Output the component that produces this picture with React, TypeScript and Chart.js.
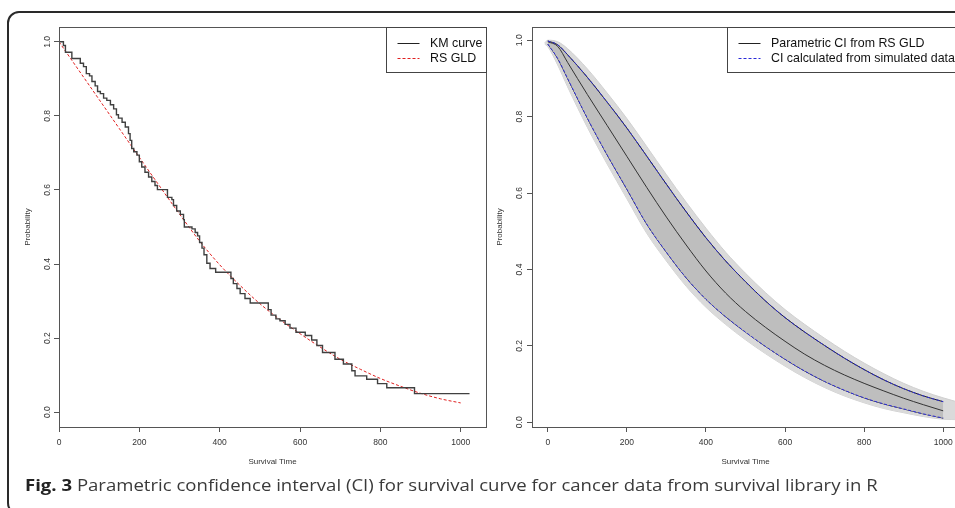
import React, { useEffect, useRef } from "react";
import { Chart, registerables } from "chart.js";

Chart.register(...registerables);

const FONT = "'Liberation Sans', Arial, Helvetica, sans-serif";

// ---------- Left panel: Kaplan-Meier curve vs RS GLD fit ----------
const kmTimes = [0, 11, 16, 32, 53, 61, 68, 76, 82, 90, 96, 103, 111, 119, 128, 136, 143, 148, 157, 165, 173, 177, 181, 186, 194, 200, 206, 214, 223, 231, 239, 245, 270, 281, 285, 293, 302, 310, 312, 331, 339, 345, 350, 356, 361, 368, 376, 390, 428, 434, 443, 451, 463, 476, 521, 528, 540, 550, 563, 575, 590, 613, 629, 642, 656, 687, 708, 729, 737, 766, 793, 816, 885, 1022];
const kmSurv = [1.0, 0.99, 0.972, 0.955, 0.942, 0.933, 0.914, 0.908, 0.893, 0.881, 0.866, 0.86, 0.848, 0.842, 0.83, 0.819, 0.803, 0.794, 0.783, 0.77, 0.752, 0.734, 0.712, 0.703, 0.694, 0.676, 0.662, 0.648, 0.635, 0.623, 0.612, 0.601, 0.58, 0.574, 0.558, 0.543, 0.534, 0.52, 0.5, 0.495, 0.485, 0.476, 0.458, 0.443, 0.425, 0.402, 0.388, 0.378, 0.361, 0.347, 0.334, 0.32, 0.307, 0.295, 0.277, 0.262, 0.252, 0.247, 0.237, 0.227, 0.216, 0.207, 0.195, 0.18, 0.161, 0.143, 0.13, 0.112, 0.098, 0.089, 0.077, 0.066, 0.05, 0.05];

const gldTimes = [0, 50, 100, 150, 200, 250, 300, 350, 400, 450, 500, 550, 600, 650, 700, 750, 800, 850, 900, 950, 1000];
const gldSurv = [1.0, 0.922, 0.844, 0.766, 0.688, 0.611, 0.535, 0.462, 0.398, 0.343, 0.293, 0.25, 0.212, 0.176, 0.143, 0.116, 0.091, 0.07, 0.051, 0.036, 0.025];

// ---------- Right panel: parametric CI and simulated curves ----------
const ciTimes = [0, 25, 50, 100, 150, 200, 250, 300, 350, 400, 450, 500, 550, 600, 650, 700, 750, 800, 850, 900, 950, 1000];
const ciCenter = [0.996, 0.984, 0.942, 0.858, 0.777, 0.696, 0.615, 0.537, 0.464, 0.396, 0.338, 0.29, 0.249, 0.212, 0.178, 0.149, 0.124, 0.102, 0.082, 0.063, 0.046, 0.03];
const ciLower = [0.99, 0.952, 0.9, 0.796, 0.7, 0.61, 0.519, 0.445, 0.378, 0.322, 0.276, 0.236, 0.199, 0.165, 0.134, 0.107, 0.084, 0.064, 0.048, 0.035, 0.022, 0.011];
const ciUpper = [0.998, 0.988, 0.962, 0.903, 0.838, 0.77, 0.697, 0.623, 0.551, 0.483, 0.422, 0.368, 0.318, 0.274, 0.236, 0.201, 0.168, 0.138, 0.111, 0.088, 0.069, 0.054];

const envTimes = [-8, 0, 25, 50, 100, 150, 200, 250, 300, 350, 400, 450, 500, 550, 600, 650, 700, 750, 800, 850, 900, 950, 1000, 1040];
const envUpper = [0.993, 1.0, 0.996, 0.978, 0.925, 0.862, 0.795, 0.722, 0.648, 0.576, 0.508, 0.445, 0.39, 0.34, 0.295, 0.256, 0.22, 0.186, 0.155, 0.127, 0.102, 0.081, 0.064, 0.052];
const envLower = [0.99, 0.983, 0.935, 0.878, 0.772, 0.676, 0.585, 0.495, 0.422, 0.356, 0.301, 0.256, 0.216, 0.18, 0.147, 0.117, 0.091, 0.069, 0.051, 0.036, 0.025, 0.015, 0.008, 0.007];

const xTickValues = [0, 200, 400, 600, 800, 1000];
const yTickValues = [0, 0.2, 0.4, 0.6, 0.8, 1.0];

const leftLegend = [
  { label: "KM curve", color: "#222", dash: [] as number[] },
  { label: "RS GLD", color: "#e02020", dash: [3, 2] },
];
const rightLegend = [
  { label: "Parametric CI from RS GLD", color: "#222", dash: [] as number[] },
  { label: "CI calculated from simulated data", color: "#2a2ad8", dash: [3, 2] },
];

const pts = (xs: number[], ys: number[]) => xs.map((x, i) => ({ x, y: ys[i] }));

const rStylePlugin = {
  id: "rStyle",
  afterDraw(chart: any, _args: any, opts: any) {
    const { ctx, chartArea: a } = chart;
    const ys = chart.scales.y;
    ctx.save();
    ctx.strokeStyle = "#555";
    ctx.lineWidth = 1;
    ctx.setLineDash([]);
    ctx.strokeRect(Math.round(a.left) + 0.5, Math.round(a.top) + 0.5, Math.round(a.right - a.left), Math.round(a.bottom - a.top));
    ctx.fillStyle = "#333";
    ctx.font = `8.5px ${FONT}`;
    ctx.textAlign = "center";
    ctx.textBaseline = "middle";
    for (const v of yTickValues) {
      const y = ys.getPixelForValue(v);
      ctx.save();
      ctx.translate(a.left - opts.yLabelOffset, y);
      ctx.rotate(-Math.PI / 2);
      ctx.fillText(v.toFixed(1), 0, 0);
      ctx.restore();
    }
    const w = opts.legendWidth;
    const h = 45;
    const bx = Math.round(a.right - w) + 0.5;
    const by = Math.round(a.top) + 0.5;
    ctx.fillStyle = "#fff";
    ctx.fillRect(bx, by, w, h);
    ctx.strokeStyle = "#444";
    ctx.strokeRect(bx, by, w, h);
    opts.items.forEach((it: any, i: number) => {
      const yy = Math.round(a.top) + 16 + i * 15;
      ctx.strokeStyle = it.color;
      ctx.lineWidth = 1;
      ctx.setLineDash(it.dash);
      ctx.beginPath();
      ctx.moveTo(bx + 11, yy + 0.5);
      ctx.lineTo(bx + 33, yy + 0.5);
      ctx.stroke();
      ctx.setLineDash([]);
      ctx.fillStyle = "#111";
      ctx.font = `12.4px ${FONT}`;
      ctx.textAlign = "left";
      ctx.textBaseline = "middle";
      ctx.fillText(it.label, bx + 43.5, yy + 0.5);
    });
    ctx.restore();
  },
};

function makeScales(xmin: number, xmax: number, ymin: number, ymax: number, yAxisWidth: number, yTitlePad: number) {
  return {
    x: {
      type: "linear",
      min: xmin,
      max: xmax,
      afterFit: (s: any) => {
        s.height = 53;
      },
      afterBuildTicks: (s: any) => {
        s.ticks = xTickValues.map((v) => ({ value: v }));
      },
      ticks: {
        color: "#333",
        font: { size: 8.5, family: FONT },
        padding: 6,
        autoSkip: false,
        maxRotation: 0,
        minRotation: 0,
        callback: (v: any) => String(v),
      },
      grid: { display: true, drawOnChartArea: false, drawTicks: true, tickLength: 5, color: "#555", lineWidth: 1 },
      border: { display: true, color: "#555", width: 1 },
      title: {
        display: true,
        text: "Survival Time",
        color: "#333",
        font: { size: 8, family: FONT },
        padding: { top: 0, bottom: 13.5 },
      },
    },
    y: {
      type: "linear",
      min: ymin,
      max: ymax,
      afterFit: (s: any) => {
        s.width = yAxisWidth;
      },
      afterBuildTicks: (s: any) => {
        s.ticks = yTickValues.map((v) => ({ value: v }));
      },
      ticks: { display: false },
      grid: { display: true, drawOnChartArea: false, drawTicks: true, tickLength: 5, color: "#555", lineWidth: 1 },
      border: { display: true, color: "#555", width: 1 },
      title: {
        display: true,
        text: "Probability",
        color: "#333",
        font: { size: 8, family: FONT },
        padding: { top: yTitlePad, bottom: 0 },
      },
    },
  };
}

function LeftPanel() {
  const ref = useRef<HTMLCanvasElement>(null);
  useEffect(() => {
    const chart = new Chart(ref.current as HTMLCanvasElement, {
      type: "line",
      data: {
        datasets: [
          {
            label: "KM curve",
            data: pts(kmTimes, kmSurv),
            stepped: "before",
            borderColor: "#404040",
            borderWidth: 1.4,
            pointRadius: 0,
            fill: false,
          },
          {
            label: "RS GLD",
            data: pts(gldTimes, gldSurv),
            borderColor: "#e02020",
            borderWidth: 1,
            borderDash: [3, 2],
            pointRadius: 0,
            cubicInterpolationMode: "monotone",
            fill: false,
          },
        ],
      } as any,
      options: {
        animation: false,
        responsive: false,
        devicePixelRatio: 1,
        layout: { padding: { left: 0, top: 27, right: 4, bottom: 0 } },
        plugins: {
          legend: { display: false },
          tooltip: { enabled: false },
          rStyle: { yLabelOffset: 11, legendWidth: 100, items: leftLegend },
        } as any,
        scales: makeScales(0, 1063, -0.04, 1.04, 59, 23.2) as any,
      },
      plugins: [rStylePlugin as any],
    });
    return () => chart.destroy();
  }, []);
  return <canvas ref={ref} width={490} height={480} style={{ position: "absolute", left: 0, top: 0 }} />;
}

function RightPanel() {
  const ref = useRef<HTMLCanvasElement>(null);
  useEffect(() => {
    const common = { pointRadius: 0, cubicInterpolationMode: "monotone" };
    const chart = new Chart(ref.current as HTMLCanvasElement, {
      type: "line",
      data: {
        datasets: [
          { ...common, label: "sim-low", data: pts(envTimes, envLower), borderColor: "#d0d0d0", borderWidth: 1, fill: false, order: 7 },
          { ...common, label: "sim-high", data: pts(envTimes, envUpper), borderColor: "#d0d0d0", borderWidth: 1, fill: { target: 0 }, backgroundColor: "#dadada", order: 6 },
          { ...common, label: "pci-low", data: pts(ciTimes, ciLower), borderColor: "#222", borderWidth: 1, fill: false, order: 5 },
          { ...common, label: "pci-high", data: pts(ciTimes, ciUpper), borderColor: "#222", borderWidth: 1, fill: { target: 2 }, backgroundColor: "#bebebe", order: 4 },
          { ...common, label: "center", data: pts(ciTimes, ciCenter), borderColor: "#333", borderWidth: 1, fill: false, order: 3 },
          { ...common, label: "sci-low", data: pts(ciTimes, ciLower), borderColor: "#2a2ad8", borderWidth: 1, borderDash: [3, 2], fill: false, order: 2 },
          { ...common, label: "sci-high", data: pts(ciTimes, ciUpper), borderColor: "#2a2ad8", borderWidth: 1, borderDash: [3, 2], fill: false, order: 1 },
        ],
      } as any,
      options: {
        animation: false,
        responsive: false,
        devicePixelRatio: 1,
        layout: { padding: { left: 0, top: 27, right: 6, bottom: 0 } },
        plugins: {
          legend: { display: false },
          tooltip: { enabled: false },
          filler: { propagate: false },
          rStyle: { yLabelOffset: 12.5, legendWidth: 232, items: rightLegend },
        } as any,
        scales: makeScales(-40, 1040, -0.0123, 1.0346, 52, 15.2) as any,
      },
      plugins: [rStylePlugin as any],
    });
    return () => chart.destroy();
  }, []);
  return <canvas ref={ref} width={485} height={480} style={{ position: "absolute", left: 480, top: 0 }} />;
}

export default function App() {
  return (
    <div
      style={{
        position: "absolute",
        left: 0,
        top: 0,
        width: 955,
        height: 508,
        overflow: "hidden",
        background: "#fff",
      }}
    >
      <div
        style={{
          position: "absolute",
          left: 7,
          top: 11,
          width: 990,
          height: 504,
          boxSizing: "border-box",
          border: "2px solid #2a2a2a",
          borderRadius: 12,
        }}
      />
      <LeftPanel />
      <RightPanel />
      <div
        style={{
          position: "absolute",
          left: 25,
          top: 475,
          fontFamily: "'Open Sans', 'Noto Sans', sans-serif",
          fontSize: 16,
          lineHeight: "20px",
          color: "#3a3a3a",
          whiteSpace: "nowrap",
          transform: "scaleX(1.16)",
          transformOrigin: "left center",
        }}
      >
        <span style={{ fontWeight: 700, color: "#222" }}>Fig. 3</span> Parametric confidence interval (CI) for survival curve for cancer data from survival library in R
      </div>
    </div>
  );
}
